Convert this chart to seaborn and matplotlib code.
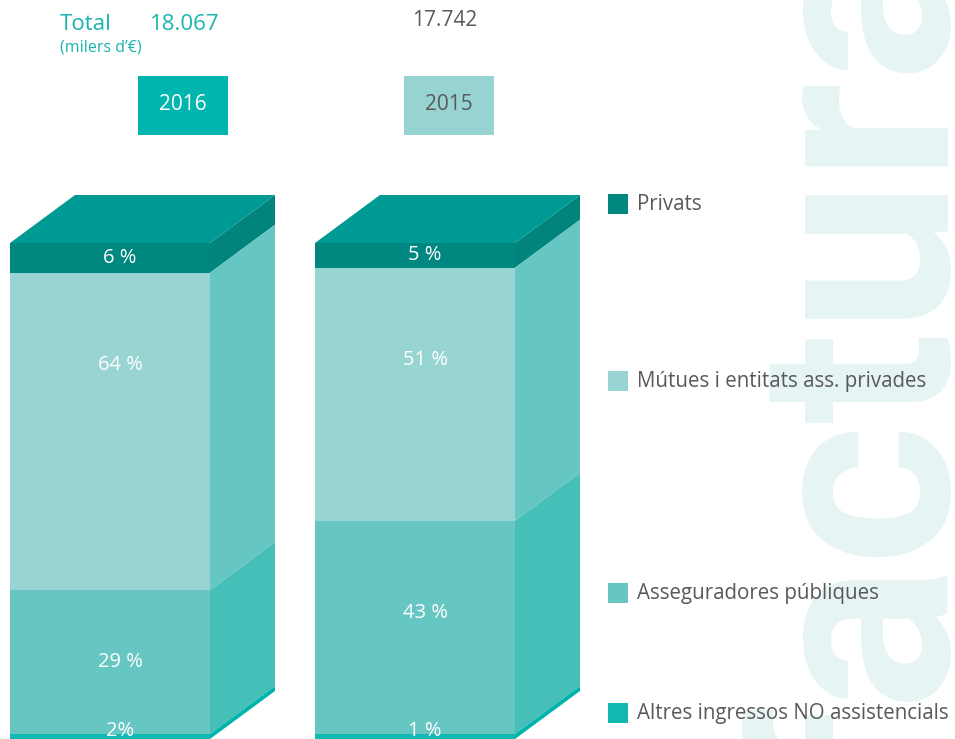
import matplotlib
matplotlib.use("Agg")
import matplotlib.pyplot as plt
import seaborn as sns
import pandas as pd
import numpy as np
from matplotlib.patches import Polygon, Rectangle

# data
years = ['2016', '2015']
categories = ['Privats', 'Mútues i entitats ass. privades',
              'Asseguradores públiques', 'Altres ingressos NO assistencials']
share_2016 = [6, 64, 29, 2]
share_2015 = [5, 51, 43, 1]
labels_2016 = ['6 %', '64 %', '29 %', '2%']
labels_2015 = ['5 %', '51 %', '43 %', '1 %']
totals = ['18.067', '17.742']

front_colors = ['#00877f', '#98d5d2', '#66c6c2', '#12b9b3']
side_colors = ['#00847c', '#66c6c2', '#47bfb9', '#00b3ac']
top_color = '#009a94'
teal_text = '#1ab5ae'
grey_text = '#595959'

sns.set_theme(style='white')
plt.rcParams['font.family'] = ['Open Sans', 'DejaVu Sans']

W, H = 955, 739
fig = plt.figure(figsize=(W / 100, H / 100), dpi=100)
fig.patch.set_facecolor('white')


def fx(px):
    return px / W


def fy(py):
    return 1 - py / H


# watermark behind everything
fig.text(fx(1000), fy(368), 'factura', rotation=90, ha='right', va='center',
         fontsize=195, fontweight='bold', family=['Roboto', 'DejaVu Sans'],
         color='#e6f4f4', zorder=-5)

ax = fig.add_axes([0, 0, 1, 1])
ax.patch.set_visible(False)

# segments stacked downward from 100
rows = []
for year, shares, labs in [(years[0], share_2016, labels_2016), (years[1], share_2015, labels_2015)]:
    top = 100
    for cat, s, lab in zip(categories, shares, labs):
        rows.append(dict(year=year, category=cat, top=top, bottom=top - s, label=lab))
        top -= s
df = pd.DataFrame(rows)

bar_w = 200 / 305
# layered bars: each drawn from 0 up to the segment's top
for cat, col in zip(categories, front_colors):
    sub = df[df['category'] == cat]
    sns.barplot(data=sub, x='year', y='top', order=years, color=col,
                width=bar_w, saturation=1, ax=ax, errorbar=None, linewidth=0)

px_per_x = 305.0
ylim_top = H / 4.96
ax.set_xlim(-110 / px_per_x, (W - 110) / px_per_x)
ax.set_ylim(0, ylim_top)
ax.set_axis_off()

ddx = 65 / px_per_x
ddy = 48 / 4.96

for i, year in enumerate(years):
    xl, xr = i - bar_w / 2, i + bar_w / 2
    sub = df[df['year'] == year].reset_index(drop=True)
    for j, r in sub.iterrows():
        b = max(r['bottom'], 0)
        t = r['top']
        ax.add_patch(Polygon([(xr, b), (xr + ddx, b + ddy), (xr + ddx, t + ddy), (xr, t)],
                             closed=True, facecolor=side_colors[j], edgecolor='none'))
        ly = max((r['top'] + r['bottom']) / 2, r['top'] - 18.5, 1.6)
        ax.text(i + 10 / px_per_x, ly, r['label'], ha='center', va='center',
                color='white', fontsize=14.5)
    ax.add_patch(Polygon([(xl, 100), (xr, 100), (xr + ddx, 100 + ddy), (xl + ddx, 100 + ddy)],
                         closed=True, facecolor=top_color, edgecolor='none'))

# header
fig.text(fx(60), fy(24), 'Total', ha='left', va='center', fontsize=16, color=teal_text)
fig.text(fx(150), fy(24), totals[0], ha='left', va='center', fontsize=16, color=teal_text)
fig.text(fx(60), fy(47), '(milers d’€)', ha='left', va='center', fontsize=11.5, color=teal_text)
fig.text(fx(412), fy(21), totals[1], ha='left', va='center', fontsize=15, color=grey_text)

for (x0, fc, tc), yr in zip([(138, '#00b5ad', 'white'), (404, '#97d4d1', grey_text)], years):
    fig.patches.append(Rectangle((fx(x0), fy(135)), 90 / W, 59 / H, transform=fig.transFigure,
                                 facecolor=fc, edgecolor='none', figure=fig))
    fig.text(fx(x0 + 45), fy(105), yr, ha='center', va='center', fontsize=15, color=tc)

# legend
legend_y = [204, 381, 593, 713]
for cat, col, ly in zip(categories, front_colors, legend_y):
    fig.patches.append(Rectangle((fx(608), fy(ly + 10)), 20 / W, 20 / H, transform=fig.transFigure,
                                 facecolor=col, edgecolor='none', figure=fig))
    fig.text(fx(637), fy(ly), cat, ha='left', va='center', fontsize=14.8, color=grey_text)

fig.savefig('out.png', dpi=100, facecolor='white')
